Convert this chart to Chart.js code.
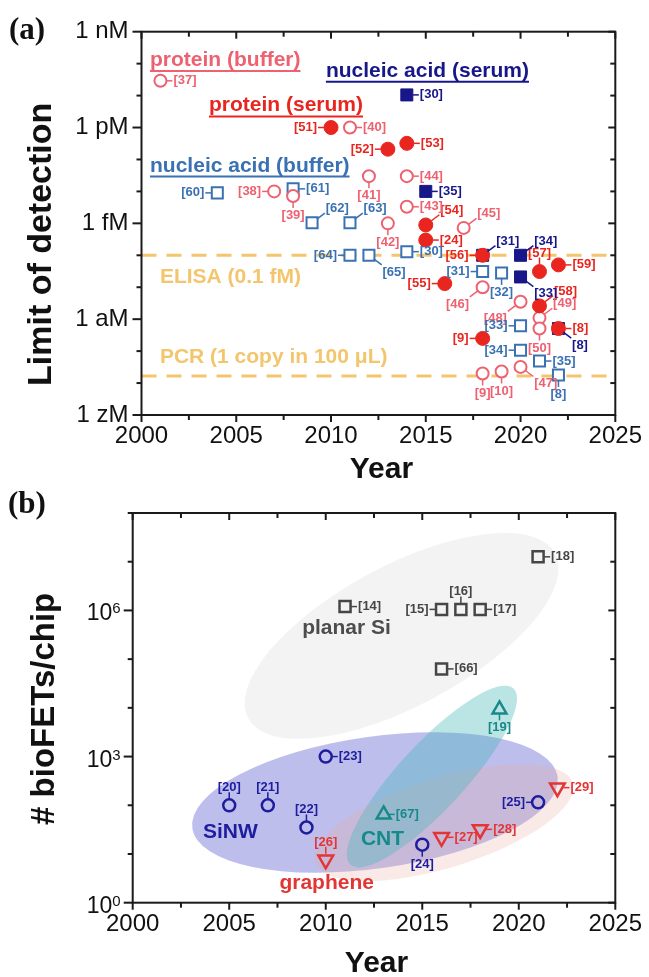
<!DOCTYPE html>
<html>
<head>
<meta charset="utf-8">
<title>bioFET sensitivity and integration</title>
<script src="https://cdn.jsdelivr.net/npm/chart.js@4.4.1/dist/chart.umd.min.js"></script>
<style>
    body { margin: 0; background: #fff; }
    .panel { position: absolute; left: 0; }
    #lodChart { top: 0; }
    #fetChart { top: 470px; }
</style>
</head>
<body>
<canvas id="lodChart" class="panel" width="649" height="490"></canvas>
<canvas id="fetChart" class="panel" width="649" height="507"></canvas>
<script>
// ---------- panel (a): limit of detection ----------
var lodTickValues = [1e-21, 1e-18, 1e-15, 1e-12, 1e-9];
var lodTickLabels = ['1 zM', '1 aM', '1 fM', '1 pM', '1 nM'];
var yearTicks = [2000, 2005, 2010, 2015, 2020, 2025];

// protein (buffer) - open circles
var protBufYear = [2001, 2007, 2008, 2011, 2012, 2013, 2014, 2014, 2017, 2018, 2020, 2021, 2021, 2018, 2019, 2020];
var protBufLod  = [2.9e-11, 1e-14, 7.2e-15, 1e-12, 3e-14, 1e-15, 3.3e-15, 3e-14, 7.2e-16, 1e-17, 3.5e-18, 1.1e-18, 5.1e-19, 2e-20, 2.3e-20, 3.2e-20];
var protBufRef  = [37, 38, 39, 40, 41, 42, 43, 44, 45, 46, 48, 49, 50, 9, 10, 47];
var protBufSide = ['r', 'l', 'b', 'r', 'b', 'b', 'r', 'r', 'ur', 'bl', 'bl', 'ur', 'b', 'b', 'b', 'br'];

// protein (serum) - filled circles
var protSerYear = [2010, 2013, 2014, 2015, 2015, 2016, 2018, 2021, 2022, 2021, 2022, 2018];
var protSerLod  = [1e-12, 2.1e-13, 3.2e-13, 8.9e-16, 3e-16, 1.3e-17, 1e-16, 3.1e-17, 5e-17, 2.6e-18, 5.1e-19, 2.5e-19];
var protSerRef  = [51, 52, 53, 54, 24, 55, 56, 57, 59, 58, 8, 9];
var protSerSide = ['l', 'l', 'r', 'ur', 'r', 'l', 'l', 't', 'r', 'ur', 'r', 'l'];

// nucleic acid (buffer) - open squares
var nucBufYear = [2004, 2008, 2009, 2011, 2011, 2012, 2014, 2018, 2019, 2020, 2020, 2021, 2022];
var nucBufLod  = [9e-15, 1.2e-14, 1.05e-15, 1.05e-15, 1e-16, 1e-16, 1.3e-16, 3.1e-17, 2.8e-17, 6.2e-19, 1.07e-19, 4.9e-20, 1.8e-20];
var nucBufRef  = [60, 61, 62, 63, 64, 65, 30, 31, 32, 33, 34, 35, 8];
var nucBufSide = ['l', 'r', 'ur', 'ur', 'l', 'br', 'r', 'l', 'b', 'l', 'l', 'r', 'b'];

// nucleic acid (serum) - filled squares
var nucSerYear = [2014, 2015, 2018, 2020, 2020, 2022];
var nucSerLod  = [1.05e-11, 1e-14, 1e-16, 1e-16, 2.1e-17, 5.1e-19];
var nucSerRef  = [30, 35, 31, 34, 33, 8];
var nucSerSide = ['r', 'r', 'ur', 'ur', 'br', 'br'];

var elisaLod = 1e-16;    // 0.1 fM
var pcrLod = 1.66e-20;   // 1 copy in 100 uL

// ---------- panel (b): bioFETs per chip ----------
var fetTickValues = [1, 1e3, 1e6];
var fetTickLabels = ['10\u2070', '10\u00b3', '10\u2076'];

var siYear  = [2011, 2016, 2017, 2018, 2021, 2016];
var siCount = [1.2e6, 1.05e6, 1.05e6, 1.05e6, 1.26e7, 6.3e4];
var siRef   = [14, 15, 16, 17, 18, 66];
var siSide  = ['r', 'l', 't', 'r', 'r', 'r'];

var nwYear  = [2005, 2007, 2009, 2010, 2015, 2021];
var nwCount = [100, 100, 35, 1000, 15.5, 115];
var nwRef   = [20, 21, 22, 23, 24, 25];
var nwSide  = ['t', 't', 't', 'r', 'b', 'l'];

var cntYear  = [2019, 2013];
var cntCount = [9.3e3, 65];
var cntRef   = [19, 67];
var cntSide  = ['b', 'r'];

var grYear  = [2010, 2016, 2018, 2022];
var grCount = [7.6, 22, 32, 230];
var grRef   = [26, 27, 28, 29];
var grSide  = ['t', 'r', 'r', 'r'];

var FONT = "'Liberation Sans', Arial, sans-serif";
var PINK = '#ee6170', RED = '#e8261f', BLUE = '#3a71b2', NAVY = '#17178a', GOLD = '#f3c56c';
var GRAY = '#464646', SINW = '#1d1d9e', CNT = '#18898b', GRAPHENE = '#e43535';
var SUPER = '\u2070\u00b9\u00b2\u00b3\u2074\u2075\u2076\u2077\u2078\u2079';

function points(xs, ys) {
    return xs.map(function(x, i) { return {x: x, y: ys[i]}; });
}

var SIDES = {
    r:  [1, 0, 6, 'left', 'middle'],
    l:  [-1, 0, 6, 'right', 'middle'],
    t:  [0, -1, 7, 'center', 'alphabetic'],
    b:  [0, 1, 6, 'center', 'top'],
    ur: [0.8, -0.6, 10, 'left', 'alphabetic'],
    br: [0.8, 0.6, 10, 'left', 'top'],
    bl: [-0.8, 0.6, 10, 'right', 'top']
};

function line(ctx, x0, y0, x1, y1) {
    ctx.beginPath(); ctx.moveTo(x0, y0); ctx.lineTo(x1, y1); ctx.stroke();
}

// frame, ticks on all four sides, refs, notes, titles
var framePlugin = {
    id: 'frame',
    beforeDatasetsDraw: function(chart, args, opts) {
        var ctx = chart.ctx, xs = chart.scales.x, ys = chart.scales.y, area = chart.chartArea;
        (opts.ellipses || []).forEach(function(e) {
            var cx = xs.getPixelForValue(e.cx), cy = ys.getPixelForValue(e.cy);
            var ex = xs.getPixelForValue(e.ex), ey = ys.getPixelForValue(e.ey);
            ctx.save();
            ctx.beginPath();
            ctx.ellipse(cx, cy, Math.hypot(ex - cx, ey - cy), e.b, Math.atan2(ey - cy, ex - cx), 0, 2 * Math.PI);
            ctx.fillStyle = e.color;
            ctx.fill();
            ctx.restore();
        });
        (opts.hlines || []).forEach(function(h) {
            var y = ys.getPixelForValue(h.value);
            ctx.save();
            ctx.strokeStyle = h.color; ctx.lineWidth = 3; ctx.setLineDash([15, 10]);
            line(ctx, area.left, y, area.right, y);
            ctx.restore();
        });
    },
    afterDatasetsDraw: function(chart, args, opts) {
        var ctx = chart.ctx, xs = chart.scales.x, ys = chart.scales.y, area = chart.chartArea;

        // reference labels next to each marker
        chart.data.datasets.forEach(function(ds, i) {
            var meta = chart.getDatasetMeta(i);
            ctx.save();
            ctx.strokeStyle = ds.borderColor; ctx.fillStyle = ds.borderColor;
            ctx.lineWidth = 1.5; ctx.font = opts.refFont;
            meta.data.forEach(function(pt, j) {
                var s = SIDES[ds.sides[j]];
                var x0 = pt.x + s[0] * ds.gap, y0 = pt.y + s[1] * ds.gap;
                var x1 = x0 + s[0] * s[2], y1 = y0 + s[1] * s[2];
                line(ctx, x0, y0, x1, y1);
                ctx.textAlign = s[3]; ctx.textBaseline = s[4];
                ctx.fillText('[' + ds.refs[j] + ']', x1 + s[0], y1 + (s[4] === 'alphabetic' ? -1 : s[1]));
            });
            ctx.restore();
        });

        // group notes
        (opts.notes || []).forEach(function(n) {
            var x = xs.getPixelForValue(n.x), y = ys.getPixelForValue(n.y);
            ctx.save();
            ctx.font = opts.noteFont; ctx.fillStyle = n.color; ctx.strokeStyle = n.color;
            ctx.textAlign = 'left'; ctx.textBaseline = 'alphabetic';
            ctx.fillText(n.text, x, y);
            if (n.underline) {
                ctx.lineWidth = 2;
                line(ctx, x, y + 5, x + ctx.measureText(n.text).width, y + 5);
            }
            ctx.restore();
        });

        // frame and ticks
        ctx.save();
        ctx.strokeStyle = '#1a1a1a'; ctx.lineWidth = 2;
        ctx.strokeRect(area.left, area.top, area.right - area.left, area.bottom - area.top);
        xs.ticks.forEach(function(t) {
            var px = xs.getPixelForValue(t.value), L = t.label ? 7 : 5;
            line(ctx, px, area.bottom, px, area.bottom + L);
            line(ctx, px, area.top, px, area.top + L);
        });
        ys.ticks.forEach(function(t) {
            var py = ys.getPixelForValue(t.value);
            line(ctx, area.left - (t.label ? 9 : 5), py, area.left, py);
            line(ctx, area.right - (t.label ? 7 : 5), py, area.right, py);
        });
        ctx.restore();

        // power-of-ten labels with a raised exponent
        if (opts.superTicks) {
            ctx.save();
            ctx.fillStyle = '#111';
            ys.ticks.forEach(function(t) {
                if (!t.label) return;
                var py = ys.getPixelForValue(t.value);
                var exp = String(SUPER.indexOf(t.label.slice(-1)));
                var base = t.label.slice(0, -1);
                var xr = area.left - 12;
                ctx.font = '15px ' + FONT;
                ctx.textAlign = 'right'; ctx.textBaseline = 'alphabetic';
                ctx.fillText(exp, xr, py + 3);
                var w = ctx.measureText(exp).width;
                ctx.font = '23px ' + FONT;
                ctx.fillText(base, xr - w, py + 10);
            });
            ctx.restore();
        }

        // axis titles and panel letter
        ctx.save();
        ctx.fillStyle = '#111';
        ctx.textAlign = 'center'; ctx.textBaseline = 'alphabetic';
        ctx.font = 'bold 30px ' + FONT;
        ctx.fillText('Year', (area.left + area.right) / 2 + opts.xTitle[0], area.bottom + opts.xTitle[1]);
        ctx.translate(opts.yTitle[0], (area.top + area.bottom) / 2 + opts.yTitle[1]);
        ctx.rotate(-Math.PI / 2);
        ctx.textBaseline = 'middle';
        ctx.font = 'bold ' + opts.yTitle[3] + 'px ' + FONT;
        ctx.fillText(opts.yTitle[2], 0, 0);
        ctx.restore();
        ctx.save();
        ctx.fillStyle = '#111';
        ctx.font = "bold 31px 'Liberation Serif', 'Times New Roman', serif";
        ctx.textAlign = 'left'; ctx.textBaseline = 'alphabetic';
        ctx.fillText(opts.letter[0], opts.letter[1], opts.letter[2]);
        ctx.restore();
    }
};

function yearAxis(height) {
    return {
        type: 'linear', min: 2000, max: 2025,
        afterBuildTicks: function(scale) {
            var t = [];
            for (var v = 2000; v <= 2025; v += 2.5) t.push({value: v});
            scale.ticks = t;
        },
        ticks: {
            autoSkip: false, maxRotation: 0, padding: 7, color: '#111',
            font: {family: FONT, size: 24},
            callback: function(v) { return yearTicks.indexOf(v) >= 0 ? String(v) : ''; }
        },
        grid: {display: false, drawTicks: false},
        border: {display: false},
        afterFit: function(scale) { scale.height = height; }
    };
}

function logAxis(min, max, values, labels, width, size, hidden) {
    return {
        type: 'logarithmic', min: min, max: max,
        afterBuildTicks: function(scale) {
            var t = [];
            for (var e = Math.round(Math.log10(min)); e <= Math.round(Math.log10(max)); e++) t.push({value: Math.pow(10, e)});
            scale.ticks = t;
        },
        ticks: {
            autoSkip: false, padding: 13, color: hidden ? 'rgba(0,0,0,0)' : '#111',
            font: {family: FONT, size: size},
            callback: function(v) {
                for (var i = 0; i < values.length; i++) {
                    if (Math.abs(Math.log10(values[i]) - Math.log10(v)) < 1e-6) return labels[i];
                }
                return '';
            }
        },
        grid: {display: false, drawTicks: false},
        border: {display: false},
        afterFit: function(scale) { scale.width = width; }
    };
}

function series(label, xs, ys, refs, sides, style) {
    return Object.assign({
        label: label, data: points(xs, ys), refs: refs, sides: sides, showLine: false
    }, style);
}

new Chart(document.getElementById('lodChart'), {
    type: 'scatter',
    data: {
        datasets: [
            series('protein (serum)', protSerYear, protSerLod, protSerRef, protSerSide,
                {order: 0, pointStyle: 'circle', pointRadius: 7, borderColor: RED, backgroundColor: RED, pointBorderWidth: 1, gap: 7}),
            series('nucleic acid (serum)', nucSerYear, nucSerLod, nucSerRef, nucSerSide,
                {order: 1, pointStyle: 'rect', pointRadius: 8.5, borderColor: NAVY, backgroundColor: NAVY, pointBorderWidth: 1, gap: 6}),
            series('protein (buffer)', protBufYear, protBufLod, protBufRef, protBufSide,
                {order: 2, pointStyle: 'circle', pointRadius: 6, borderColor: PINK, backgroundColor: '#fff', pointBorderWidth: 2, gap: 6}),
            series('nucleic acid (buffer)', nucBufYear, nucBufLod, nucBufRef, nucBufSide,
                {order: 3, pointStyle: 'rect', pointRadius: 7.8, borderColor: BLUE, backgroundColor: '#fff', pointBorderWidth: 2, gap: 6})
        ]
    },
    options: {
        responsive: false, animation: false, devicePixelRatio: 1, events: [],
        layout: {padding: {top: 31.7, right: 32, left: 0, bottom: 0}},
        plugins: {
            legend: {display: false}, tooltip: {enabled: false},
            frame: {
                refFont: 'bold 13px ' + FONT,
                noteFont: 'bold 21px ' + FONT,
                hlines: [{value: elisaLod, color: GOLD}, {value: pcrLod, color: GOLD}],
                notes: [
                    {text: 'protein (buffer)', x: 2000.45, y: 8.5e-11, color: PINK, underline: true},
                    {text: 'protein (serum)', x: 2003.56, y: 3.2e-12, color: RED, underline: true},
                    {text: 'nucleic acid (serum)', x: 2009.73, y: 3.9e-11, color: NAVY, underline: true},
                    {text: 'nucleic acid (buffer)', x: 2000.45, y: 4.2e-14, color: BLUE, underline: true},
                    {text: 'ELISA (0.1 fM)', x: 2000.97, y: 1.35e-17, color: GOLD},
                    {text: 'PCR (1 copy in 100 \u03bcL)', x: 2000.97, y: 4.3e-20, color: GOLD}
                ],
                xTitle: [3, 63],
                yTitle: [42, 21, 'Limit of detection', 34],
                letter: ['(a)', 9, 39]
            }
        },
        scales: {
            x: yearAxis(75),
            y: logAxis(1e-21, 1e-9, lodTickValues, lodTickLabels, 141.5, 24, false)
        }
    },
    plugins: [framePlugin]
});

new Chart(document.getElementById('fetChart'), {
    type: 'scatter',
    data: {
        datasets: [
            series('planar Si', siYear, siCount, siRef, siSide,
                {order: 0, pointStyle: 'rect', pointRadius: 7.8, borderColor: GRAY, backgroundColor: 'rgba(0,0,0,0)', pointBorderWidth: 2.5, gap: 6}),
            series('SiNW', nwYear, nwCount, nwRef, nwSide,
                {order: 1, pointStyle: 'circle', pointRadius: 6, borderColor: SINW, backgroundColor: 'rgba(0,0,0,0)', pointBorderWidth: 2.5, gap: 6}),
            series('CNT', cntYear, cntCount, cntRef, cntSide,
                {order: 2, pointStyle: 'triangle', pointRadius: 8, borderColor: CNT, backgroundColor: 'rgba(0,0,0,0)', pointBorderWidth: 2.5, gap: 5}),
            series('graphene', grYear, grCount, grRef, grSide,
                {order: 3, pointStyle: 'triangle', rotation: 180, pointRadius: 8.5, borderColor: GRAPHENE, backgroundColor: 'rgba(0,0,0,0)', pointBorderWidth: 2.5, gap: 6})
        ]
    },
    options: {
        responsive: false, animation: false, devicePixelRatio: 1, events: [],
        layout: {padding: {top: 43, right: 31.7, left: 0, bottom: 0}},
        plugins: {
            legend: {display: false}, tooltip: {enabled: false},
            frame: {
                refFont: 'bold 13px ' + FONT,
                noteFont: 'bold 21px ' + FONT,
                superTicks: true,
                ellipses: [
                    {cx: 2013.93, cy: 3.0e5, ex: 2021.88, ey: 1.48e7, b: 70, color: 'rgba(200,200,200,0.22)'},
                    {cx: 2012.55, cy: 114, ex: 2022.01, ey: 385, b: 66, color: 'rgba(110,110,215,0.45)'},
                    {cx: 2016.12, cy: 44, ex: 2022.79, ey: 287, b: 45, color: 'rgba(230,170,160,0.25)'},
                    {cx: 2015.5, cy: 389, ex: 2019.73, ey: 2.5e4, b: 33, color: 'rgba(60,180,180,0.35)'}
                ],
                notes: [
                    {text: 'planar Si', x: 2008.78, y: 3.3e5, color: '#4d4d4d'},
                    {text: 'SiNW', x: 2003.64, y: 21.4, color: SINW},
                    {text: 'CNT', x: 2011.82, y: 15.5, color: CNT},
                    {text: 'graphene', x: 2007.6, y: 1.9, color: GRAPHENE}
                ],
                xTitle: [2.5, 69],
                yTitle: [45, 1, '# bioFETs/chip', 33],
                letter: ['(b)', 8, 43]
            }
        },
        scales: {
            x: yearAxis(74.3),
            y: logAxis(1, 1e8, fetTickValues, fetTickLabels, 132.7, 22, true)
        }
    },
    plugins: [framePlugin]
});
</script>
</body>
</html>
